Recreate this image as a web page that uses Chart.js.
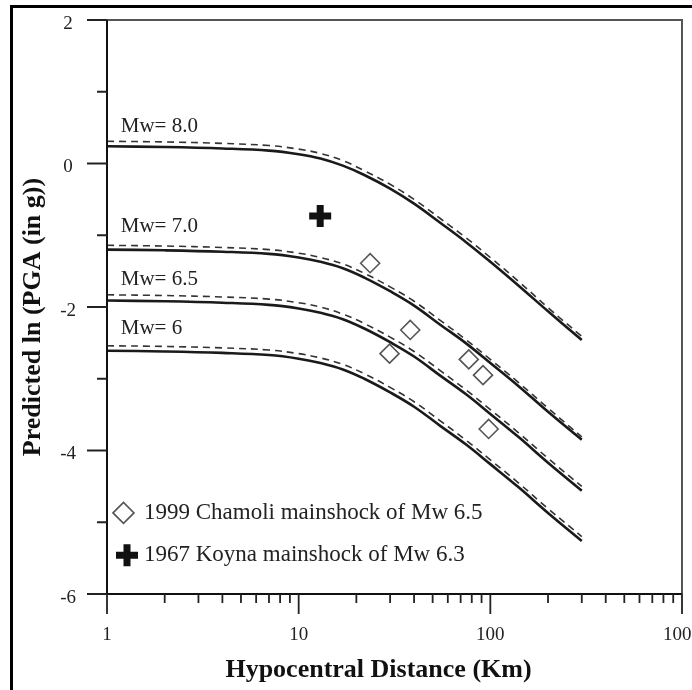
<!DOCTYPE html>
<html>
<head>
<meta charset="utf-8">
<script src="https://cdn.jsdelivr.net/npm/chart.js@4.4.0/dist/chart.umd.min.js"></script>
<style>
  html, body { margin: 0; padding: 0; background: #fff; overflow: hidden; width: 692px; height: 690px; }
  #frame { position: absolute; left: 10px; top: 5px; width: 720px; height: 720px;
           border-left: 3px solid #000; border-top: 3px solid #000; }
  #mycanvas { position: absolute; left: 0; top: 0; }
</style>
</head>
<body>
<div id="frame"></div>
<!-- canvas is a bit wider than the window so the "1000" label gets cut like in the figure -->
<canvas id="mycanvas" width="700" height="690"></canvas>
<script>
// hypocentral distance (km) where the curves were read
var distance = [1, 2, 4, 7, 10, 13, 17, 22, 30, 40, 55, 75, 100, 140, 200, 300];

// predicted ln(PGA), solid and dashed curve for each magnitude
var mw80 = [0.24, 0.23, 0.21, 0.18, 0.13, 0.07, -0.03, -0.16, -0.35, -0.56, -0.83, -1.10, -1.37, -1.70, -2.06, -2.46];
var mw80Dash = [0.31, 0.30, 0.28, 0.25, 0.20, 0.14, 0.04, -0.10, -0.29, -0.50, -0.77, -1.04, -1.31, -1.64, -2.01, -2.41];
var mw70 = [-1.20, -1.21, -1.23, -1.26, -1.31, -1.37, -1.46, -1.59, -1.78, -1.98, -2.25, -2.51, -2.78, -3.10, -3.46, -3.85];
var mw70Dash = [-1.14, -1.15, -1.17, -1.20, -1.25, -1.31, -1.40, -1.53, -1.72, -1.92, -2.19, -2.46, -2.73, -3.05, -3.41, -3.81];
var mw65 = [-1.91, -1.92, -1.94, -1.97, -2.02, -2.08, -2.17, -2.30, -2.49, -2.69, -2.96, -3.22, -3.49, -3.81, -4.17, -4.56];
var mw65Dash = [-1.83, -1.84, -1.86, -1.89, -1.94, -2.00, -2.10, -2.23, -2.42, -2.62, -2.89, -3.16, -3.43, -3.75, -4.11, -4.50];
var mw60 = [-2.61, -2.62, -2.64, -2.67, -2.72, -2.78, -2.87, -3.00, -3.19, -3.39, -3.66, -3.92, -4.19, -4.51, -4.87, -5.26];
var mw60Dash = [-2.54, -2.55, -2.57, -2.60, -2.65, -2.71, -2.80, -2.93, -3.12, -3.32, -3.59, -3.86, -4.13, -4.45, -4.81, -5.20];

// observed records
var chamoliDist = [23.6, 38.2, 29.8, 77.2, 91.6, 98.0];
var chamoliPga = [-1.39, -2.32, -2.65, -2.73, -2.95, -3.70];
var koynaDist = [12.95];
var koynaPga = [-0.73];

var curveLabels = ['Mw= 8.0', 'Mw= 7.0', 'Mw= 6.5', 'Mw= 6'];
var curveLabelY = [0.52, -0.875, -1.61, -2.30];
var legendLabels = ['1999 Chamoli mainshock of Mw 6.5', '1967 Koyna mainshock of Mw 6.3'];
var xTickLabels = [1, 10, 100, 1000];
var yTickLabels = [2, 0, -2, -4, -6];

function pts(xs, ys) {
    var out = [];
    for (var i = 0; i < xs.length; i++) out.push({x: xs[i], y: ys[i]});
    return out;
}

function curve(vals, dashed) {
    return {
        data: pts(distance, vals),
        borderColor: dashed ? '#333' : '#1a1a1a',
        borderWidth: dashed ? 1.6 : 2.6,
        borderDash: dashed ? [7, 5] : [],
        pointRadius: 0,
        fill: false,
        tension: 0.4
    };
}

function drawDiamond(ctx, x, y, r) {
    ctx.beginPath();
    ctx.moveTo(x - r, y); ctx.lineTo(x, y - r); ctx.lineTo(x + r, y); ctx.lineTo(x, y + r);
    ctx.closePath();
    ctx.stroke();
}

var decor = {
    id: 'decor',
    afterDraw: function(chart) {
        var ctx = chart.ctx, a = chart.chartArea;
        var xs = chart.scales.x, ys = chart.scales.y;
        ctx.save();

        // plot frame
        ctx.lineWidth = 2;
        ctx.strokeStyle = '#555';
        ctx.beginPath();
        ctx.moveTo(a.left, a.top); ctx.lineTo(a.right, a.top); ctx.lineTo(a.right, a.bottom);
        ctx.stroke();
        ctx.strokeStyle = '#111';
        ctx.beginPath();
        ctx.moveTo(a.left, a.top); ctx.lineTo(a.left, a.bottom); ctx.lineTo(a.right, a.bottom);
        ctx.stroke();

        // tick marks
        ctx.lineWidth = 1.8;
        ctx.strokeStyle = '#222';
        ctx.beginPath();
        for (var v = -6; v <= 2; v++) {
            var py = ys.getPixelForValue(v);
            var len = (v % 2 === 0) ? 20 : 10;
            ctx.moveTo(a.left - len, py); ctx.lineTo(a.left, py);
        }
        for (var d = 1; d <= 100; d *= 10) {
            for (var k = 1; k <= 9; k++) {
                var px = xs.getPixelForValue(k * d);
                var l2 = (k === 1) ? 20 : 9;
                ctx.moveTo(px, a.bottom); ctx.lineTo(px, a.bottom + l2);
            }
        }
        var pEnd = xs.getPixelForValue(1000);
        ctx.moveTo(pEnd, a.bottom); ctx.lineTo(pEnd, a.bottom + 20);
        ctx.stroke();

        // curve labels
        ctx.fillStyle = '#222';
        ctx.font = '21px "Liberation Serif"';
        ctx.textAlign = 'left';
        ctx.textBaseline = 'middle';
        var lx = xs.getPixelForValue(1.18);
        for (var i = 0; i < curveLabels.length; i++) {
            ctx.fillText(curveLabels[i], lx, ys.getPixelForValue(curveLabelY[i]));
        }

        // legend
        var ly1 = ys.getPixelForValue(-4.87), ly2 = ys.getPixelForValue(-5.46);
        ctx.strokeStyle = '#555';
        ctx.lineWidth = 1.6;
        drawDiamond(ctx, a.left + 16.5, ly1, 10.5);
        ctx.strokeStyle = '#111';
        ctx.lineWidth = 7;
        ctx.beginPath();
        ctx.moveTo(a.left + 9, ly2); ctx.lineTo(a.left + 31, ly2);
        ctx.moveTo(a.left + 20, ly2 - 11); ctx.lineTo(a.left + 20, ly2 + 11);
        ctx.stroke();
        ctx.font = '23px "Liberation Serif"';
        ctx.fillText(legendLabels[0], a.left + 37, ly1);
        ctx.fillText(legendLabels[1], a.left + 37, ly2);

        // axis titles
        ctx.font = 'bold 26px "Liberation Serif"';
        ctx.fillStyle = '#111';
        ctx.textAlign = 'center';
        ctx.fillText('Hypocentral Distance (Km)', (a.left + a.right) / 2 - 16, a.bottom + 76);
        ctx.translate(a.left - 74, (a.top + a.bottom) / 2 + 10);
        ctx.rotate(-Math.PI / 2);
        ctx.fillText('Predicted ln (PGA (in g))', 0, 0);
        ctx.restore();
    }
};

var ctx = document.getElementById('mycanvas');
var chart = new Chart(ctx, {
    type: 'line',
    data: {
        datasets: [
            curve(mw80Dash, true), curve(mw80, false),
            curve(mw70Dash, true), curve(mw70, false),
            curve(mw65Dash, true), curve(mw65, false),
            curve(mw60Dash, true), curve(mw60, false),
            {
                data: pts(chamoliDist, chamoliPga),
                showLine: false,
                pointStyle: 'rectRot',
                pointRadius: 9.5,
                pointBorderColor: '#555',
                pointBorderWidth: 1.6,
                pointBackgroundColor: 'rgba(0,0,0,0)'
            },
            {
                data: pts(koynaDist, koynaPga),
                showLine: false,
                pointStyle: 'cross',
                pointRadius: 11,
                pointBorderColor: '#111',
                pointBorderWidth: 7
            }
        ]
    },
    options: {
        responsive: false,
        animation: false,
        events: [],
        layout: { padding: { left: 0, top: 20, right: 0, bottom: 0 } },
        plugins: { legend: { display: false }, tooltip: { enabled: false } },
        scales: {
            x: {
                type: 'logarithmic',
                min: 1,
                max: 1000,
                grid: { display: false, drawTicks: false },
                border: { display: false },
                ticks: {
                    autoSkip: false,
                    maxRotation: 0,
                    padding: 30,
                    color: '#222',
                    font: { family: 'Liberation Serif', size: 19 },
                    callback: function(v) { return xTickLabels.indexOf(v) >= 0 ? String(v) : ''; }
                },
                afterFit: function(s) { s.height = 96; s.paddingLeft = 0; s.paddingRight = 0; }
            },
            y: {
                min: -6,
                max: 2,
                grid: { display: false, drawTicks: false },
                border: { display: false },
                ticks: {
                    stepSize: 1,
                    padding: 31,
                    labelOffset: 4,
                    crossAlign: 'center',
                    color: '#222',
                    font: { family: 'Liberation Serif', size: 19 },
                    callback: function(v) { return yTickLabels.indexOf(v) >= 0 ? String(v) : ''; }
                },
                afterFit: function(s) { s.width = 107; s.paddingTop = 0; s.paddingBottom = 0; }
            }
        }
    },
    plugins: [decor]
});
</script>
</body>
</html>
